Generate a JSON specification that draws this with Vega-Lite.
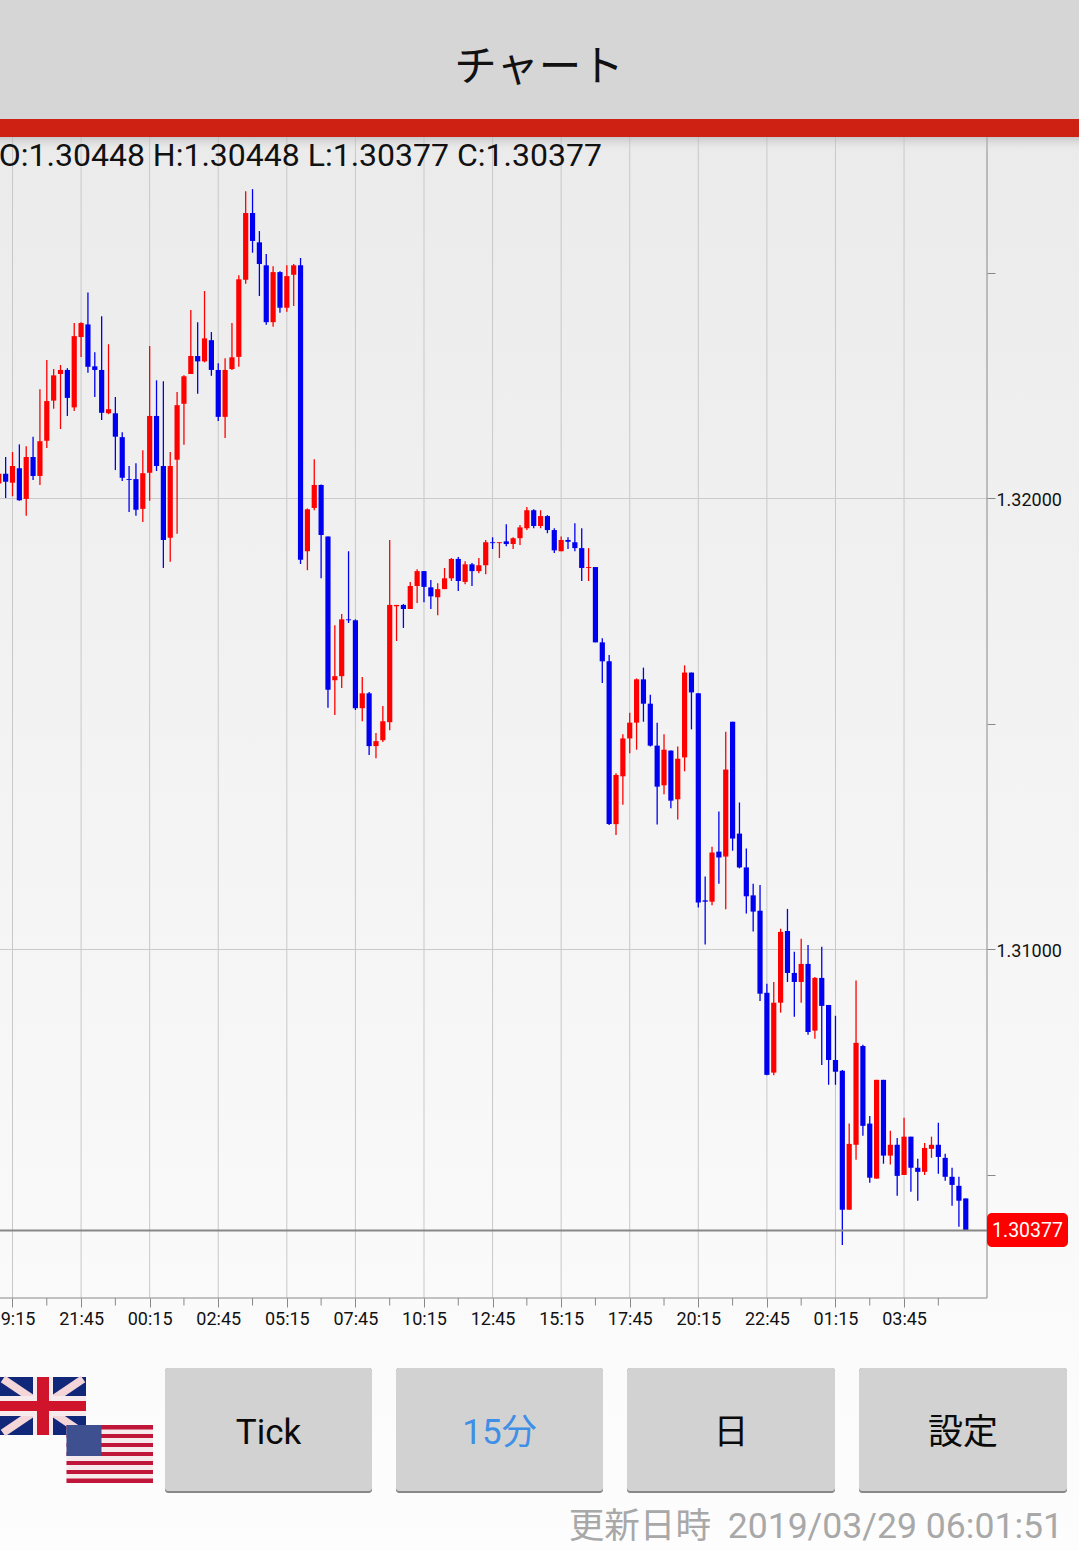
{
"$schema":"https://vega.github.io/schema/vega-lite/v6.json",
"autosize":{"type":"none"},"padding":0,"width":1079,"height":1550,"background":"#fafafa",
"config":{"view":{"stroke":null},"font":"Roboto"},
"datasets":{
"candles":[
{"t":"2019-03-27T18:45Z","open":1.32033,"high":1.32055,"low":1.32033,"close":1.32055},
{"t":"2019-03-27T19:00Z","open":1.32055,"high":1.32092,"low":1.32001,"close":1.32037},
{"t":"2019-03-27T19:15Z","open":1.32035,"high":1.32103,"low":1.32005,"close":1.32072},
{"t":"2019-03-27T19:30Z","open":1.32067,"high":1.32120,"low":1.31995,"close":1.31996},
{"t":"2019-03-27T19:45Z","open":1.31999,"high":1.32116,"low":1.31962,"close":1.32092},
{"t":"2019-03-27T20:00Z","open":1.32092,"high":1.32137,"low":1.32041,"close":1.32050},
{"t":"2019-03-27T20:15Z","open":1.32050,"high":1.32242,"low":1.32030,"close":1.32127},
{"t":"2019-03-27T20:30Z","open":1.32128,"high":1.32307,"low":1.32112,"close":1.32216},
{"t":"2019-03-27T20:45Z","open":1.32217,"high":1.32287,"low":1.32199,"close":1.32273},
{"t":"2019-03-27T21:00Z","open":1.32276,"high":1.32296,"low":1.32154,"close":1.32285},
{"t":"2019-03-27T21:15Z","open":1.32285,"high":1.32289,"low":1.32183,"close":1.32223},
{"t":"2019-03-27T21:30Z","open":1.32202,"high":1.32389,"low":1.32194,"close":1.32360},
{"t":"2019-03-27T21:45Z","open":1.32358,"high":1.32391,"low":1.32314,"close":1.32389},
{"t":"2019-03-27T22:00Z","open":1.32386,"high":1.32457,"low":1.32279,"close":1.32292},
{"t":"2019-03-27T22:15Z","open":1.32293,"high":1.32324,"low":1.32225,"close":1.32285},
{"t":"2019-03-27T22:30Z","open":1.32285,"high":1.32404,"low":1.32174,"close":1.32190},
{"t":"2019-03-27T22:45Z","open":1.32189,"high":1.32342,"low":1.32187,"close":1.32198},
{"t":"2019-03-27T23:00Z","open":1.32189,"high":1.32225,"low":1.32063,"close":1.32137},
{"t":"2019-03-27T23:15Z","open":1.32136,"high":1.32147,"low":1.32039,"close":1.32046},
{"t":"2019-03-27T23:30Z","open":1.32043,"high":1.32072,"low":1.31970,"close":1.32041},
{"t":"2019-03-27T23:45Z","open":1.32043,"high":1.32078,"low":1.31962,"close":1.31975},
{"t":"2019-03-28T00:00Z","open":1.31977,"high":1.32107,"low":1.31948,"close":1.32056},
{"t":"2019-03-28T00:15Z","open":1.32057,"high":1.32338,"low":1.31995,"close":1.32183},
{"t":"2019-03-28T00:30Z","open":1.32183,"high":1.32262,"low":1.32061,"close":1.32072},
{"t":"2019-03-28T00:45Z","open":1.32072,"high":1.32260,"low":1.31846,"close":1.31908},
{"t":"2019-03-28T01:00Z","open":1.31913,"high":1.32103,"low":1.31860,"close":1.32072},
{"t":"2019-03-28T01:15Z","open":1.32086,"high":1.32236,"low":1.31922,"close":1.32207},
{"t":"2019-03-28T01:30Z","open":1.32210,"high":1.32273,"low":1.32119,"close":1.32271},
{"t":"2019-03-28T01:45Z","open":1.32276,"high":1.32418,"low":1.32276,"close":1.32316},
{"t":"2019-03-28T02:00Z","open":1.32316,"high":1.32391,"low":1.32232,"close":1.32304},
{"t":"2019-03-28T02:15Z","open":1.32304,"high":1.32460,"low":1.32302,"close":1.32355},
{"t":"2019-03-28T02:30Z","open":1.32351,"high":1.32369,"low":1.32272,"close":1.32285},
{"t":"2019-03-28T02:45Z","open":1.32285,"high":1.32300,"low":1.32172,"close":1.32181},
{"t":"2019-03-28T03:00Z","open":1.32181,"high":1.32311,"low":1.32134,"close":1.32285},
{"t":"2019-03-28T03:15Z","open":1.32287,"high":1.32389,"low":1.32285,"close":1.32313},
{"t":"2019-03-28T03:30Z","open":1.32314,"high":1.32495,"low":1.32292,"close":1.32486},
{"t":"2019-03-28T03:45Z","open":1.32485,"high":1.32681,"low":1.32476,"close":1.32633},
{"t":"2019-03-28T04:00Z","open":1.32633,"high":1.32686,"low":1.32545,"close":1.32571},
{"t":"2019-03-28T04:15Z","open":1.32568,"high":1.32593,"low":1.32449,"close":1.32520},
{"t":"2019-03-28T04:30Z","open":1.32517,"high":1.32542,"low":1.32385,"close":1.32391},
{"t":"2019-03-28T04:45Z","open":1.32391,"high":1.32515,"low":1.32381,"close":1.32502},
{"t":"2019-03-28T05:00Z","open":1.32502,"high":1.32504,"low":1.32412,"close":1.32423},
{"t":"2019-03-28T05:15Z","open":1.32423,"high":1.32517,"low":1.32414,"close":1.32493},
{"t":"2019-03-28T05:30Z","open":1.32496,"high":1.32520,"low":1.32427,"close":1.32517},
{"t":"2019-03-28T05:45Z","open":1.32517,"high":1.32533,"low":1.31855,"close":1.31864},
{"t":"2019-03-28T06:00Z","open":1.31883,"high":1.31978,"low":1.31841,"close":1.31976},
{"t":"2019-03-28T06:15Z","open":1.31979,"high":1.32087,"low":1.31974,"close":1.32030},
{"t":"2019-03-28T06:30Z","open":1.32030,"high":1.32031,"low":1.31823,"close":1.31919},
{"t":"2019-03-28T06:45Z","open":1.31916,"high":1.31916,"low":1.31536,"close":1.31576},
{"t":"2019-03-28T07:00Z","open":1.31597,"high":1.31719,"low":1.31520,"close":1.31606},
{"t":"2019-03-28T07:15Z","open":1.31606,"high":1.31744,"low":1.31580,"close":1.31732},
{"t":"2019-03-28T07:30Z","open":1.31732,"high":1.31883,"low":1.31724,"close":1.31730},
{"t":"2019-03-28T07:45Z","open":1.31730,"high":1.31732,"low":1.31531,"close":1.31535},
{"t":"2019-03-28T08:00Z","open":1.31535,"high":1.31604,"low":1.31506,"close":1.31568},
{"t":"2019-03-28T08:15Z","open":1.31568,"high":1.31571,"low":1.31431,"close":1.31451},
{"t":"2019-03-28T08:30Z","open":1.31451,"high":1.31480,"low":1.31424,"close":1.31462},
{"t":"2019-03-28T08:45Z","open":1.31464,"high":1.31540,"low":1.31460,"close":1.31506},
{"t":"2019-03-28T09:00Z","open":1.31504,"high":1.31908,"low":1.31486,"close":1.31764},
{"t":"2019-03-28T09:15Z","open":1.31761,"high":1.31764,"low":1.31684,"close":1.31764},
{"t":"2019-03-28T09:30Z","open":1.31764,"high":1.31766,"low":1.31713,"close":1.31755},
{"t":"2019-03-28T09:45Z","open":1.31755,"high":1.31815,"low":1.31755,"close":1.31806},
{"t":"2019-03-28T10:00Z","open":1.31806,"high":1.31843,"low":1.31768,"close":1.31839},
{"t":"2019-03-28T10:15Z","open":1.31839,"high":1.31839,"low":1.31770,"close":1.31804},
{"t":"2019-03-28T10:30Z","open":1.31803,"high":1.31819,"low":1.31755,"close":1.31783},
{"t":"2019-03-28T10:45Z","open":1.31781,"high":1.31812,"low":1.31741,"close":1.31799},
{"t":"2019-03-28T11:00Z","open":1.31799,"high":1.31846,"low":1.31799,"close":1.31823},
{"t":"2019-03-28T11:15Z","open":1.31823,"high":1.31868,"low":1.31817,"close":1.31866},
{"t":"2019-03-28T11:30Z","open":1.31866,"high":1.31870,"low":1.31795,"close":1.31817},
{"t":"2019-03-28T11:45Z","open":1.31815,"high":1.31861,"low":1.31810,"close":1.31854},
{"t":"2019-03-28T12:00Z","open":1.31854,"high":1.31857,"low":1.31806,"close":1.31839},
{"t":"2019-03-28T12:15Z","open":1.31839,"high":1.31868,"low":1.31834,"close":1.31852},
{"t":"2019-03-28T12:30Z","open":1.31852,"high":1.31908,"low":1.31832,"close":1.31903},
{"t":"2019-03-28T12:45Z","open":1.31903,"high":1.31914,"low":1.31888,"close":1.31901},
{"t":"2019-03-28T13:00Z","open":1.31901,"high":1.31903,"low":1.31868,"close":1.31903},
{"t":"2019-03-28T13:15Z","open":1.31905,"high":1.31943,"low":1.31894,"close":1.31899},
{"t":"2019-03-28T13:30Z","open":1.31899,"high":1.31914,"low":1.31888,"close":1.31912},
{"t":"2019-03-28T13:45Z","open":1.31912,"high":1.31941,"low":1.31897,"close":1.31936},
{"t":"2019-03-28T14:00Z","open":1.31934,"high":1.31981,"low":1.31930,"close":1.31974},
{"t":"2019-03-28T14:15Z","open":1.31974,"high":1.31976,"low":1.31934,"close":1.31939},
{"t":"2019-03-28T14:30Z","open":1.31939,"high":1.31974,"low":1.31934,"close":1.31961},
{"t":"2019-03-28T14:45Z","open":1.31961,"high":1.31963,"low":1.31923,"close":1.31930},
{"t":"2019-03-28T15:00Z","open":1.31930,"high":1.31934,"low":1.31879,"close":1.31885},
{"t":"2019-03-28T15:15Z","open":1.31883,"high":1.31916,"low":1.31883,"close":1.31908},
{"t":"2019-03-28T15:30Z","open":1.31908,"high":1.31914,"low":1.31888,"close":1.31904},
{"t":"2019-03-28T15:45Z","open":1.31903,"high":1.31945,"low":1.31883,"close":1.31890},
{"t":"2019-03-28T16:00Z","open":1.31890,"high":1.31934,"low":1.31817,"close":1.31846},
{"t":"2019-03-28T16:15Z","open":1.31846,"high":1.31890,"low":1.31817,"close":1.31848},
{"t":"2019-03-28T16:30Z","open":1.31848,"high":1.31848,"low":1.31681,"close":1.31681},
{"t":"2019-03-28T16:45Z","open":1.31681,"high":1.31690,"low":1.31591,"close":1.31639},
{"t":"2019-03-28T17:00Z","open":1.31639,"high":1.31653,"low":1.31276,"close":1.31278},
{"t":"2019-03-28T17:15Z","open":1.31278,"high":1.31391,"low":1.31254,"close":1.31387},
{"t":"2019-03-28T17:30Z","open":1.31384,"high":1.31477,"low":1.31321,"close":1.31468},
{"t":"2019-03-28T17:45Z","open":1.31468,"high":1.31525,"low":1.31435,"close":1.31503},
{"t":"2019-03-28T18:00Z","open":1.31503,"high":1.31601,"low":1.31443,"close":1.31599},
{"t":"2019-03-28T18:15Z","open":1.31599,"high":1.31625,"low":1.31505,"close":1.31545},
{"t":"2019-03-28T18:30Z","open":1.31545,"high":1.31565,"low":1.31450,"close":1.31452},
{"t":"2019-03-28T18:45Z","open":1.31452,"high":1.31503,"low":1.31277,"close":1.31361},
{"t":"2019-03-28T19:00Z","open":1.31364,"high":1.31477,"low":1.31344,"close":1.31443},
{"t":"2019-03-28T19:15Z","open":1.31441,"high":1.31441,"low":1.31313,"close":1.31330},
{"t":"2019-03-28T19:30Z","open":1.31333,"high":1.31450,"low":1.31288,"close":1.31423},
{"t":"2019-03-28T19:45Z","open":1.31426,"high":1.31630,"low":1.31395,"close":1.31614},
{"t":"2019-03-28T20:00Z","open":1.31614,"high":1.31614,"low":1.31488,"close":1.31570},
{"t":"2019-03-28T20:15Z","open":1.31568,"high":1.31568,"low":1.31093,"close":1.31104},
{"t":"2019-03-28T20:30Z","open":1.31109,"high":1.31162,"low":1.31011,"close":1.31106},
{"t":"2019-03-28T20:45Z","open":1.31106,"high":1.31228,"low":1.31098,"close":1.31215},
{"t":"2019-03-28T21:00Z","open":1.31217,"high":1.31306,"low":1.31146,"close":1.31204},
{"t":"2019-03-28T21:15Z","open":1.31206,"high":1.31483,"low":1.31089,"close":1.31399},
{"t":"2019-03-28T21:30Z","open":1.31505,"high":1.31505,"low":1.31219,"close":1.31246},
{"t":"2019-03-28T21:45Z","open":1.31257,"high":1.31326,"low":1.31180,"close":1.31182},
{"t":"2019-03-28T22:00Z","open":1.31182,"high":1.31224,"low":1.31080,"close":1.31118},
{"t":"2019-03-28T22:15Z","open":1.31120,"high":1.31146,"low":1.31040,"close":1.31084},
{"t":"2019-03-28T22:30Z","open":1.31086,"high":1.31143,"low":1.30886,"close":1.30902},
{"t":"2019-03-28T22:45Z","open":1.30904,"high":1.30924,"low":1.30721,"close":1.30722},
{"t":"2019-03-28T23:00Z","open":1.30727,"high":1.30928,"low":1.30721,"close":1.30882},
{"t":"2019-03-28T23:15Z","open":1.30882,"high":1.31046,"low":1.30860,"close":1.31039},
{"t":"2019-03-28T23:30Z","open":1.31041,"high":1.31090,"low":1.30928,"close":1.30948},
{"t":"2019-03-28T23:45Z","open":1.30948,"high":1.30995,"low":1.30851,"close":1.30928},
{"t":"2019-03-29T00:00Z","open":1.30928,"high":1.31024,"low":1.30882,"close":1.30968},
{"t":"2019-03-29T00:15Z","open":1.30968,"high":1.31010,"low":1.30811,"close":1.30817},
{"t":"2019-03-29T00:30Z","open":1.30820,"high":1.30939,"low":1.30802,"close":1.30937},
{"t":"2019-03-29T00:45Z","open":1.30937,"high":1.31006,"low":1.30744,"close":1.30875},
{"t":"2019-03-29T01:00Z","open":1.30877,"high":1.30877,"low":1.30700,"close":1.30755},
{"t":"2019-03-29T01:15Z","open":1.30755,"high":1.30853,"low":1.30700,"close":1.30729},
{"t":"2019-03-29T01:30Z","open":1.30731,"high":1.30733,"low":1.30345,"close":1.30423},
{"t":"2019-03-29T01:45Z","open":1.30423,"high":1.30614,"low":1.30423,"close":1.30569},
{"t":"2019-03-29T02:00Z","open":1.30567,"high":1.30931,"low":1.30534,"close":1.30793},
{"t":"2019-03-29T02:15Z","open":1.30786,"high":1.30789,"low":1.30587,"close":1.30609},
{"t":"2019-03-29T02:30Z","open":1.30614,"high":1.30631,"low":1.30483,"close":1.30494},
{"t":"2019-03-29T02:45Z","open":1.30492,"high":1.30711,"low":1.30492,"close":1.30711},
{"t":"2019-03-29T03:00Z","open":1.30711,"high":1.30711,"low":1.30525,"close":1.30543},
{"t":"2019-03-29T03:15Z","open":1.30543,"high":1.30598,"low":1.30523,"close":1.30567},
{"t":"2019-03-29T03:30Z","open":1.30567,"high":1.30582,"low":1.30454,"close":1.30498},
{"t":"2019-03-29T03:45Z","open":1.30500,"high":1.30627,"low":1.30500,"close":1.30585},
{"t":"2019-03-29T04:00Z","open":1.30585,"high":1.30585,"low":1.30463,"close":1.30516},
{"t":"2019-03-29T04:15Z","open":1.30516,"high":1.30536,"low":1.30443,"close":1.30507},
{"t":"2019-03-29T04:30Z","open":1.30507,"high":1.30571,"low":1.30500,"close":1.30560},
{"t":"2019-03-29T04:45Z","open":1.30558,"high":1.30585,"low":1.30538,"close":1.30567},
{"t":"2019-03-29T05:00Z","open":1.30567,"high":1.30616,"low":1.30503,"close":1.30540},
{"t":"2019-03-29T05:15Z","open":1.30538,"high":1.30547,"low":1.30487,"close":1.30496},
{"t":"2019-03-29T05:30Z","open":1.30496,"high":1.30516,"low":1.30432,"close":1.30478},
{"t":"2019-03-29T05:45Z","open":1.30476,"high":1.30496,"low":1.30385,"close":1.30443},
{"t":"2019-03-29T06:00Z","open":1.30448,"high":1.30448,"low":1.30377,"close":1.30377}
],
"majorTicks":[{"t":"2019-03-27T19:15Z"},{"t":"2019-03-27T21:45Z"},{"t":"2019-03-28T00:15Z"},{"t":"2019-03-28T02:45Z"},{"t":"2019-03-28T05:15Z"},{"t":"2019-03-28T07:45Z"},{"t":"2019-03-28T10:15Z"},{"t":"2019-03-28T12:45Z"},{"t":"2019-03-28T15:15Z"},{"t":"2019-03-28T17:45Z"},{"t":"2019-03-28T20:15Z"},{"t":"2019-03-28T22:45Z"},{"t":"2019-03-29T01:15Z"},{"t":"2019-03-29T03:45Z"}],
"minorTicks":[{"t":"2019-03-27T20:30Z"},{"t":"2019-03-27T23:00Z"},{"t":"2019-03-28T01:30Z"},{"t":"2019-03-28T04:00Z"},{"t":"2019-03-28T06:30Z"},{"t":"2019-03-28T09:00Z"},{"t":"2019-03-28T11:30Z"},{"t":"2019-03-28T14:00Z"},{"t":"2019-03-28T16:30Z"},{"t":"2019-03-28T19:00Z"},{"t":"2019-03-28T21:30Z"},{"t":"2019-03-29T00:00Z"},{"t":"2019-03-29T02:30Z"},{"t":"2019-03-29T05:00Z"}],
"priceGrid":[{"price":1.32},{"price":1.31}],
"lastPrice":[{"price":1.30377}],
"frame":[{"sx":0,"sy":1298,"sx2":987,"sy2":1298},{"sx":987,"sy":137,"sx2":987,"sy2":1298}],
"bands":[{"part":"header","sx":0,"sx2":1079,"sy":0,"sy2":119},{"part":"strip","sx":0,"sx2":1079,"sy":119,"sy2":137}],
"buttons":[
{"part":"edge","sx":165,"sx2":372,"sy":1368,"sy2":1493},{"part":"face","sx":165,"sx2":372,"sy":1368,"sy2":1491},
{"part":"edge","sx":396,"sx2":603,"sy":1368,"sy2":1493},{"part":"face","sx":396,"sx2":603,"sy":1368,"sy2":1491},
{"part":"edge","sx":627,"sx2":835,"sy":1368,"sy2":1493},{"part":"face","sx":627,"sx2":835,"sy":1368,"sy2":1491},
{"part":"edge","sx":859,"sx2":1067,"sy":1368,"sy2":1493},{"part":"face","sx":859,"sx2":1067,"sy":1368,"sy2":1491}],
"ukBase":[{"sx":0,"sx2":86,"sy":1377,"sy2":1435}],
"ukDiag":[{"sx":3,"sy":1379,"sx2":83,"sy2":1433},{"sx":3,"sy":1433,"sx2":83,"sy2":1379}],
"flagParts":[
{"part":"white","sx":0,"sx2":86,"sy":1396,"sy2":1416},{"part":"white","sx":33,"sx2":53,"sy":1377,"sy2":1435},
{"part":"ukred","sx":0,"sx2":86,"sy":1401,"sy2":1411},{"part":"ukred","sx":37,"sx2":49,"sy":1377,"sy2":1435},
{"part":"white","sx":66.5,"sx2":153,"sy":1425,"sy2":1483},
{"part":"usred","sx":66.5,"sx2":153,"sy":1425,"sy2":1429.5},{"part":"usred","sx":66.5,"sx2":153,"sy":1434,"sy2":1438},{"part":"usred","sx":66.5,"sx2":153,"sy":1443,"sy2":1447},{"part":"usred","sx":66.5,"sx2":153,"sy":1452,"sy2":1456},{"part":"usred","sx":66.5,"sx2":153,"sy":1461,"sy2":1465},{"part":"usred","sx":66.5,"sx2":153,"sy":1470,"sy2":1474},{"part":"usred","sx":66.5,"sx2":153,"sy":1478.5,"sy2":1483},
{"part":"canton","sx":66.5,"sx2":101.5,"sy":1425,"sy2":1456}],
"title":[{"label":"チャート","sx":539,"sy":68}],
"ohlc":[{"label":"O:1.30448 H:1.30448 L:1.30377 C:1.30377","sx":-1.2,"sy":156}],
"buttonText":[{"label":"Tick","sx":268.5,"sy":1433,"state":"off"},{"label":"15分","sx":499.5,"sy":1433,"state":"on"},{"label":"日","sx":731,"sy":1433,"state":"off"},{"label":"設定","sx":963,"sy":1433,"state":"off"}],
"status":[{"label":"更新日時","sx":711,"sy":1527},{"label":"2019/03/29 06:01:51","sx":1063,"sy":1527}],
"badge":[{"sx":987,"sx2":1068,"sy":1213,"sy2":1247}],
"badgeText":[{"label":"1.30377","sx":1027.5,"sy":1231}]
},
"resolve":{"scale":{"x":"independent","y":"independent","color":"independent"}},
"layer":[
{"data":{"values":[{"sx":0,"sx2":1079,"sy":137,"sy2":1550}]},
 "mark":{"type":"rect","fill":{"gradient":"linear","x1":0,"y1":0,"x2":0,"y2":1,"stops":[{"offset":0,"color":"#ebebeb"},{"offset":0.5,"color":"#f4f4f4"},{"offset":0.82,"color":"#fafafa"},{"offset":1,"color":"#fdfdfd"}]}},
 "encoding":{"x":{"field":"sx","type":"quantitative","scale":{"domain":[0,1079],"nice":false,"zero":false},"axis":null},"x2":{"field":"sx2"},"y":{"field":"sy","type":"quantitative","scale":{"domain":[1550,0],"nice":false,"zero":false},"axis":null},"y2":{"field":"sy2"}}},
{"data":{"name":"majorTicks"},"mark":{"type":"rule","stroke":"#c8c8c8","strokeWidth":1},
  "encoding":{"x":{"field":"t","type":"temporal","scale":{"type":"utc","domain":[1553712459600,1553854059000],"nice":false},"axis":null},
   "y":{"datum":1.328015,"type":"quantitative","scale":{"domain":[1.296685,1.331053],"nice":false,"zero":false},"axis":null},"y2":{"datum":1.302273}}},
{"data":{"name":"minorTicks"},"mark":{"type":"rule","stroke":"#888888","strokeWidth":1},
  "encoding":{"x":{"field":"t","type":"temporal","scale":{"type":"utc","domain":[1553712459600,1553854059000],"nice":false},"axis":null},"y":{"datum":1.302273,"type":"quantitative","scale":{"domain":[1.296685,1.331053],"nice":false,"zero":false},"axis":null},"y2":{"datum":1.302106}}},
{"data":{"name":"priceGrid"},"mark":{"type":"rule","stroke":"#cacaca","strokeWidth":1},
  "encoding":{"y":{"field":"price","type":"quantitative","scale":{"domain":[1.296685,1.331053],"nice":false,"zero":false},"axis":null},"x":{"datum":1553712459600,"type":"temporal","scale":{"type":"utc","domain":[1553712459600,1553854059000],"nice":false},"axis":null},"x2":{"datum":1553841985653}}},
{"data":{"name":"candles"},"mark":{"type":"rule","strokeWidth":1.3},
  "encoding":{"x":{"field":"t","type":"temporal","scale":{"type":"utc","domain":[1553712459600,1553854059000],"nice":false},"axis":null},"y":{"field":"high","type":"quantitative","scale":{"domain":[1.296685,1.331053],"nice":false,"zero":false},"axis":null},"y2":{"field":"low"},
   "color":{"condition":{"test":"datum.close>datum.open","value":"#ff0000"},"value":"#0000f0"}}},
{"data":{"name":"candles"},"mark":{"type":"bar","size":5.2},
  "encoding":{"x":{"field":"t","type":"temporal","scale":{"type":"utc","domain":[1553712459600,1553854059000],"nice":false,"padding":0},"axis":{"orient":"bottom","offset":-252,"values":[1553714100000,1553723100000,1553732100000,1553741100000,1553750100000,1553759100000,1553768100000,1553777100000,1553786100000,1553795100000,1553804100000,1553813100000,1553822100000,1553831100000],"format":"%H:%M","domain":false,"grid":false,"title":null,"tickSize":9,"tickColor":"#888888","labelFont":"Roboto","labelFontSize":18,"labelColor":"#111111","labelPadding":3,"labelFlush":false,"labelOverlap":false,"labelBound":false,"zindex":1}},
   "y":{"field":"open","type":"quantitative","scale":{"domain":[1.296685,1.331053],"nice":false,"zero":false},"axis":{"orient":"right","offset":-92,"values":[1.305,1.31,1.315,1.32,1.325],"labelExpr":"round(datum.value*1000)%10==0?format(datum.value,'.5f'):''","domain":false,"grid":false,"title":null,"tickSize":8,"tickColor":"#888888","labelFont":"Roboto","labelFontSize":18,"labelColor":"#111111","labelPadding":1,"labelOffset":2,"labelOverlap":false,"labelBound":false,"zindex":1}},"y2":{"field":"close"},
   "color":{"condition":{"test":"datum.close>datum.open","value":"#ff0000"},"value":"#0000f0"}}},
{"data":{"name":"lastPrice"},"mark":{"type":"rule","stroke":"#888888","strokeWidth":2},
  "encoding":{"y":{"field":"price","type":"quantitative","scale":{"domain":[1.296685,1.331053],"nice":false,"zero":false},"axis":null},"x":{"datum":1553712459600,"type":"temporal","scale":{"type":"utc","domain":[1553712459600,1553854059000],"nice":false},"axis":null},"x2":{"datum":1553841985653}}},
{"data":{"name":"frame"},"mark":{"type":"rule","stroke":"#888888","strokeWidth":1},
 "encoding":{"x":{"field":"sx","type":"quantitative","scale":{"domain":[0,1079],"nice":false,"zero":false},"axis":null},"x2":{"field":"sx2"},"y":{"field":"sy","type":"quantitative","scale":{"domain":[1550,0],"nice":false,"zero":false},"axis":null},"y2":{"field":"sy2"}}},
{"data":{"name":"bands"},"mark":{"type":"rect"},
 "encoding":{"x":{"field":"sx","type":"quantitative","scale":{"domain":[0,1079],"nice":false,"zero":false},"axis":null},"x2":{"field":"sx2"},"y":{"field":"sy","type":"quantitative","scale":{"domain":[1550,0],"nice":false,"zero":false},"axis":null},"y2":{"field":"sy2"},
  "color":{"field":"part","type":"nominal","legend":null,"scale":{"domain":["header","strip"],"range":["#d6d6d6","#cf2014"]}}}},
{"data":{"values":[{"sx":0,"sx2":1079,"sy":137,"sy2":152}]},
 "mark":{"type":"rect","fill":{"gradient":"linear","x1":0,"y1":0,"x2":0,"y2":1,"stops":[{"offset":0,"color":"rgba(170,170,170,0.55)"},{"offset":1,"color":"rgba(235,235,235,0)"}]}},
 "encoding":{"x":{"field":"sx","type":"quantitative","scale":{"domain":[0,1079],"nice":false,"zero":false},"axis":null},"x2":{"field":"sx2"},"y":{"field":"sy","type":"quantitative","scale":{"domain":[1550,0],"nice":false,"zero":false},"axis":null},"y2":{"field":"sy2"}}},
{"data":{"name":"buttons"},"mark":{"type":"rect","cornerRadius":3},
 "encoding":{"x":{"field":"sx","type":"quantitative","scale":{"domain":[0,1079],"nice":false,"zero":false},"axis":null},"x2":{"field":"sx2"},"y":{"field":"sy","type":"quantitative","scale":{"domain":[1550,0],"nice":false,"zero":false},"axis":null},"y2":{"field":"sy2"},
  "order":{"field":"sy2","sort":"descending"},
  "color":{"field":"part","type":"nominal","legend":null,"scale":{"domain":["edge","face"],"range":["#888888","#d2d2d2"]}}}},
{"data":{"name":"ukBase"},"mark":{"type":"rect","fill":"#10277a"},
 "encoding":{"x":{"field":"sx","type":"quantitative","scale":{"domain":[0,1079],"nice":false,"zero":false},"axis":null},"x2":{"field":"sx2"},"y":{"field":"sy","type":"quantitative","scale":{"domain":[1550,0],"nice":false,"zero":false},"axis":null},"y2":{"field":"sy2"}}},
{"data":{"name":"ukDiag"},"mark":{"type":"rule","stroke":"#f4d6d9","strokeWidth":8},
 "encoding":{"x":{"field":"sx","type":"quantitative","scale":{"domain":[0,1079],"nice":false,"zero":false},"axis":null},"x2":{"field":"sx2"},"y":{"field":"sy","type":"quantitative","scale":{"domain":[1550,0],"nice":false,"zero":false},"axis":null},"y2":{"field":"sy2"}}},
{"data":{"name":"flagParts"},"mark":{"type":"rect"},
 "encoding":{"x":{"field":"sx","type":"quantitative","scale":{"domain":[0,1079],"nice":false,"zero":false},"axis":null},"x2":{"field":"sx2"},"y":{"field":"sy","type":"quantitative","scale":{"domain":[1550,0],"nice":false,"zero":false},"axis":null},"y2":{"field":"sy2"},
  "color":{"field":"part","type":"nominal","legend":null,"scale":{"domain":["white","ukred","usred","canton"],"range":["#f7eaec","#cf142b","#c0163a","#3f5090"]}}}},
{"data":{"name":"title"},"mark":{"type":"text","font":"Noto Sans CJK JP","fontSize":42.5,"align":"center","baseline":"middle","fill":"#111111"},
 "encoding":{"x":{"field":"sx","type":"quantitative","scale":{"domain":[0,1079],"nice":false,"zero":false},"axis":null},"y":{"field":"sy","type":"quantitative","scale":{"domain":[1550,0],"nice":false,"zero":false},"axis":null},"text":{"field":"label"}}},
{"data":{"name":"ohlc"},"mark":{"type":"text","font":"Roboto","fontSize":32,"align":"left","baseline":"middle","fill":"#111111"},
 "encoding":{"x":{"field":"sx","type":"quantitative","scale":{"domain":[0,1079],"nice":false,"zero":false},"axis":null},"y":{"field":"sy","type":"quantitative","scale":{"domain":[1550,0],"nice":false,"zero":false},"axis":null},"text":{"field":"label"}}},
{"data":{"name":"buttonText"},"mark":{"type":"text","font":"Roboto, Noto Sans CJK JP","fontSize":35,"align":"center","baseline":"middle"},
 "encoding":{"x":{"field":"sx","type":"quantitative","scale":{"domain":[0,1079],"nice":false,"zero":false},"axis":null},"y":{"field":"sy","type":"quantitative","scale":{"domain":[1550,0],"nice":false,"zero":false},"axis":null},"text":{"field":"label"},
  "color":{"field":"state","type":"nominal","legend":null,"scale":{"domain":["off","on"],"range":["#0a0a0a","#3f8fe6"]}}}},
{"data":{"name":"status"},"mark":{"type":"text","font":"Roboto, Noto Sans CJK JP","fontSize":35.6,"align":"right","baseline":"middle","fill":"#a8a8a8"},
 "encoding":{"x":{"field":"sx","type":"quantitative","scale":{"domain":[0,1079],"nice":false,"zero":false},"axis":null},"y":{"field":"sy","type":"quantitative","scale":{"domain":[1550,0],"nice":false,"zero":false},"axis":null},"text":{"field":"label"}}},
{"data":{"name":"badge"},"mark":{"type":"rect","fill":"#ff0000","cornerRadius":5},
 "encoding":{"x":{"field":"sx","type":"quantitative","scale":{"domain":[0,1079],"nice":false,"zero":false},"axis":null},"x2":{"field":"sx2"},"y":{"field":"sy","type":"quantitative","scale":{"domain":[1550,0],"nice":false,"zero":false},"axis":null},"y2":{"field":"sy2"}}},
{"data":{"name":"badgeText"},"mark":{"type":"text","font":"Roboto","fontSize":19.5,"align":"center","baseline":"middle","fill":"#ffffff"},
 "encoding":{"x":{"field":"sx","type":"quantitative","scale":{"domain":[0,1079],"nice":false,"zero":false},"axis":null},"y":{"field":"sy","type":"quantitative","scale":{"domain":[1550,0],"nice":false,"zero":false},"axis":null},"text":{"field":"label"}}}
]
}
